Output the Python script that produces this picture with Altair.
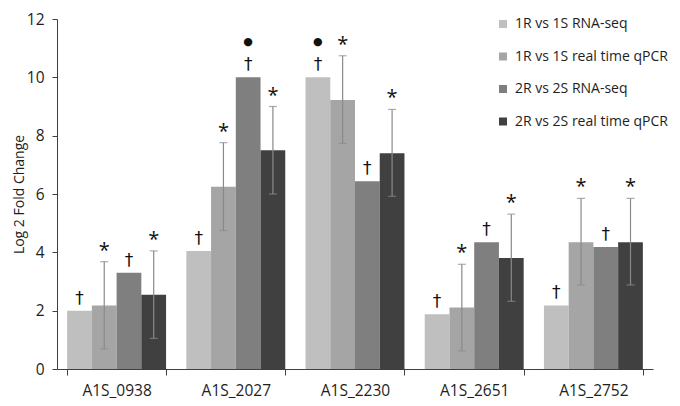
import altair as alt
import pandas as pd

genes = ["A1S_0938", "A1S_2027", "A1S_2230", "A1S_2651", "A1S_2752"]
series = ["1R vs 1S RNA-seq", "1R vs 1S real time qPCR",
          "2R vs 2S RNA-seq", "2R vs 2S real time qPCR"]
colors = ["#bfbfbf", "#a5a5a5", "#7f7f7f", "#404040"]

rna1 = [2.00, 4.05, 10.00, 1.88, 2.18]
qpcr1 = [2.18, 6.25, 9.22, 2.11, 4.35]
rna2 = [3.30, 10.00, 6.44, 4.35, 4.18]
qpcr2 = [2.55, 7.50, 7.40, 3.81, 4.35]
qpcr1_lo = [0.69, 4.75, 7.73, 0.62, 2.88]
qpcr1_hi = [3.68, 7.76, 10.74, 3.59, 5.85]
qpcr2_lo = [1.05, 6.00, 5.92, 2.32, 2.88]
qpcr2_hi = [4.05, 9.00, 8.90, 5.31, 5.85]
bullet_series = ["2R vs 2S RNA-seq", "1R vs 1S RNA-seq"]
bullet_genes = ["A1S_2027", "A1S_2230"]
bullet_values = [10.00, 10.00]

vals = [rna1, qpcr1, rna2, qpcr2]
bars = pd.DataFrame([
    {"gene": g, "series": s, "value": v[i]}
    for s, v in zip(series, vals) for i, g in enumerate(genes)
])
errs = pd.DataFrame(
    [{"gene": g, "series": series[1], "lo": qpcr1_lo[i], "hi": qpcr1_hi[i]} for i, g in enumerate(genes)]
    + [{"gene": g, "series": series[3], "lo": qpcr2_lo[i], "hi": qpcr2_hi[i]} for i, g in enumerate(genes)]
)
daggers = bars[bars["series"].isin([series[0], series[2]])].copy()
daggers["label"] = "†"
stars = errs.copy()
stars["label"] = "*"
bullets = pd.DataFrame({"gene": bullet_genes, "series": bullet_series,
                        "value": bullet_values, "label": ["●", "●"]})

FONT = "Open Sans"
TXT = "#1e1e1e"
xenc = alt.X("gene:N", sort=genes,
             scale=alt.Scale(domain=genes, paddingInner=0.17, paddingOuter=0.085),
             axis=alt.Axis(title=None, labelAngle=0, tickBand="extent", labelFontSize=15.5,
                           labelFont=FONT, labelColor=TXT, labelPadding=8,
                           domainColor="#404040", tickColor="#404040", tickSize=6))
xoff = alt.XOffset("series:N", sort=series,
                   scale=alt.Scale(domain=series, paddingInner=0, paddingOuter=0))
yscale = alt.Scale(domain=[0, 12], nice=False)

bar_layer = alt.Chart(bars).mark_bar().encode(
    x=xenc, xOffset=xoff,
    y=alt.Y("value:Q", scale=yscale,
            axis=alt.Axis(title="Log 2 Fold Change", values=[0, 2, 4, 6, 8, 10, 12],
                          grid=False, labelFontSize=15.5, labelFont=FONT, labelColor=TXT,
                          titleFont=FONT, titleFontSize=14, titleFontWeight="normal",
                          titleColor=TXT, titlePadding=0,
                          domainColor="#404040", tickColor="#404040", tickSize=5,
                          labelPadding=8)),
    color=alt.Color("series:N", sort=series,
                    scale=alt.Scale(domain=series, range=colors),
                    legend=alt.Legend(title=None, orient="none", legendX=439, legendY=-2,
                                      symbolType="square", symbolSize=64, symbolStrokeWidth=0,
                                      labelFontSize=14, labelFont=FONT, labelColor=TXT,
                                      rowPadding=18.5, labelOffset=5, padding=0)),
)

rule_layer = alt.Chart(errs).mark_rule(color="#8a8a8a", strokeWidth=1.2).encode(
    x=xenc, xOffset=xoff, y=alt.Y("lo:Q", scale=yscale), y2="hi:Q")
cap_lo = alt.Chart(errs).mark_tick(color="#8a8a8a", thickness=1.2, size=8).encode(
    x=xenc, xOffset=xoff, y=alt.Y("lo:Q", scale=yscale))
cap_hi = alt.Chart(errs).mark_tick(color="#8a8a8a", thickness=1.2, size=8).encode(
    x=xenc, xOffset=xoff, y=alt.Y("hi:Q", scale=yscale))

dagger_layer = alt.Chart(daggers).mark_text(
    baseline="bottom", dy=-3, fontSize=17, font="DejaVu Sans", color="#111111").encode(
    x=xenc, xOffset=xoff, y=alt.Y("value:Q", scale=yscale), text="label:N")
star_layer = alt.Chart(stars).mark_text(
    baseline="bottom", dy=-1, fontSize=20, font=FONT, color="#111111").encode(
    x=xenc, xOffset=xoff, y=alt.Y("hi:Q", scale=yscale), text="label:N")
bullet_layer = alt.Chart(bullets).mark_text(
    baseline="middle", dy=-35, fontSize=11, font="DejaVu Sans", color="#111111").encode(
    x=xenc, xOffset=xoff, y=alt.Y("value:Q", scale=yscale), text="label:N")

chart = alt.layer(bar_layer, rule_layer, cap_lo, cap_hi, dagger_layer, star_layer, bullet_layer
).properties(
    width=596, height=350,
    autosize=alt.AutoSizeParams(type="none"),
    padding={"left": 49, "top": 11, "right": 19, "bottom": 30},
).configure_view(stroke=None)

chart.save("out.html", embed_options={"renderer": "svg", "actions": False})
